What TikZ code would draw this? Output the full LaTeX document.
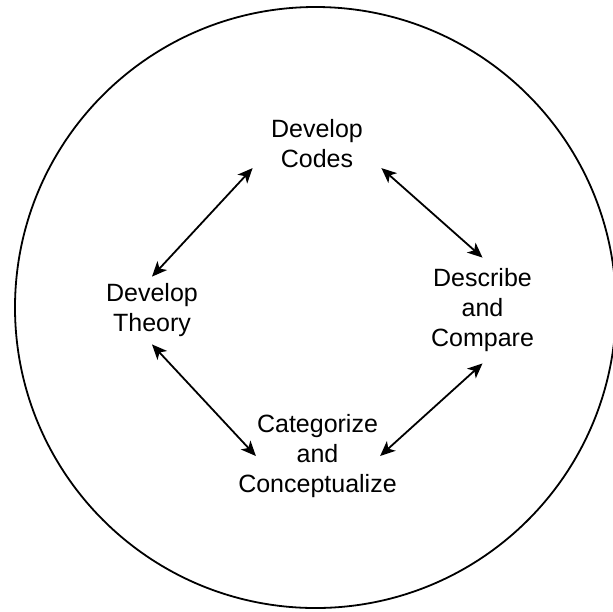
\documentclass[tikz,border=0pt]{standalone}
\usepackage{fontspec}
\setmainfont{Liberation Sans}
\usetikzlibrary{arrows.meta}

\tikzset{
	stage/.style={align=center, inner sep=0pt, font=\fontsize{12.5}{15}\selectfont},
	link/.style={{Stealth[length=7.5pt,width=6.5pt,inset=2pt]}-{Stealth[length=7.5pt,width=6.5pt,inset=2pt]}, line width=0.9pt}
}

\begin{document}
\begin{tikzpicture}[x=0.5pt,y=-0.5pt]

	\clip (0,0) rectangle (613,611);

	\draw[line width=0.9pt] (315.5,307.5) circle (150.25pt);

	\node[stage, minimum width=64pt] (codes) at (317,143.5) {Develop\\Codes};
	\node[stage, minimum height=33.5pt] (theory) at (152,310.5) {Develop\\Theory};
	\node[stage, minimum height=52.5pt] (describe) at (482.5,310.5) {Describe\\and\\Compare};
	\node[stage] (categorize) at (317.5,456) {Categorize\\and\\Conceptualize};

%	the four two-way links
	\draw[link] (theory.north) -- (codes.south west);
	\draw[link] (codes.south east) -- (describe.north);
	\draw[link] (theory.south) -- ([xshift=9pt]categorize.west);
	\draw[link] (describe.south) -- ([xshift=-8.5pt]categorize.east);

\end{tikzpicture}
\end{document}
